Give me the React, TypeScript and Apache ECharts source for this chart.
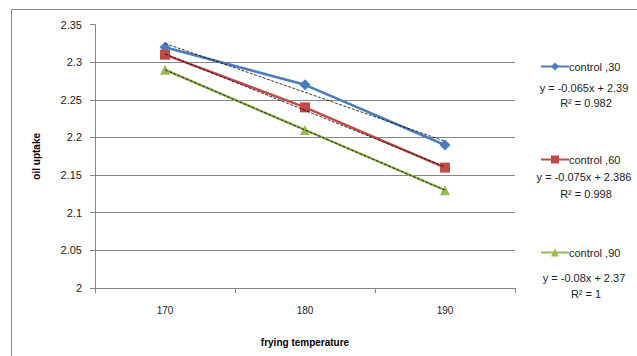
import React, { useEffect, useRef } from "react";
import * as echarts from "echarts";

const categories = ["170", "180", "190"];
const seriesNames = ["control ,30", "control ,60", "control ,90"];
const control30 = [2.32, 2.27, 2.19];
const control60 = [2.31, 2.24, 2.16];
const control90 = [2.29, 2.21, 2.13];
const trend30 = [2.325, 2.26, 2.195];
const trend60 = [2.311, 2.236, 2.161];
const trend90 = [2.29, 2.21, 2.13];
const equations = ["y = -0.065x + 2.39", "y = -0.075x + 2.386", "y = -0.08x + 2.37"];
const rSquared = ["R² = 0.982", "R² = 0.998", "R² = 1"];

const FONT = "Liberation Sans";

export default function App() {
  const ref = useRef<HTMLDivElement>(null);
  useEffect(() => {
    if (!ref.current) return;
    const chart = echarts.init(ref.current, null, { renderer: "svg" });
    const colors = ["#4A7EBB", "#BE4B48", "#98B954"];
    const symbols = ["diamond", "rect", "triangle"];
    const symbolSizes = [11, 10, 10];
    const values = [control30, control60, control90];
    const trends = [trend30, trend60, trend90];
    const eqY = [88, 177, 278];
    const r2Y = [103, 194, 294];

    const series: any[] = [];
    values.forEach((v, i) => {
      series.push({
        name: seriesNames[i],
        type: "line",
        data: v,
        symbol: symbols[i],
        symbolSize: symbolSizes[i],
        lineStyle: { color: colors[i], width: 2.5 },
        itemStyle: { color: colors[i] },
        z: 2,
      });
    });
    trends.forEach((t, i) => {
      series.push({
        name: "trend" + i,
        type: "line",
        data: t,
        symbol: "none",
        lineStyle: { color: "#000", width: 0.8, type: [3, 1.5] },
        z: 3,
        silent: true,
      });
    });

    const graphics: any[] = [
      {
        type: "rect",
        shape: { x: 11.5, y: 9.5, width: 700, height: 400 },
        style: { fill: "none", stroke: "#888", lineWidth: 1 },
        z: -1,
      },
    ];
    equations.forEach((e, i) => {
      graphics.push({
        type: "text",
        x: 584,
        y: eqY[i],
        style: { text: e, font: `11px "${FONT}"`, fill: "#222", align: "center", verticalAlign: "middle" },
      });
      graphics.push({
        type: "text",
        x: 586,
        y: r2Y[i],
        style: { text: rSquared[i], font: `11px "${FONT}"`, fill: "#222", align: "center", verticalAlign: "middle" },
      });
    });

    chart.setOption({
      animation: false,
      textStyle: { fontFamily: FONT },
      grid: { left: 95, top: 24.6, right: 122, bottom: 68, containLabel: false },
      legend: {
        data: seriesNames,
        orient: "vertical",
        left: 535,
        top: 56,
        itemGap: 82,
        itemWidth: 28,
        itemHeight: 10,
        textStyle: { fontFamily: FONT, fontSize: 11, color: "#222", padding: [0, 0, 0, -5] },
      },
      xAxis: {
        type: "category",
        data: categories,
        boundaryGap: true,
        name: "frying temperature",
        nameLocation: "middle",
        nameGap: 49,
        nameTextStyle: { fontFamily: FONT, fontSize: 10, fontWeight: "bold", color: "#000" },
        axisLine: { lineStyle: { color: "#868686", width: 1 } },
        axisTick: { show: true, length: 5, lineStyle: { color: "#868686" } },
        axisLabel: { fontFamily: FONT, fontSize: 10, color: "#222", margin: 17 },
      },
      yAxis: {
        type: "value",
        min: 2,
        max: 2.35,
        interval: 0.05,
        name: "oil uptake",
        nameLocation: "middle",
        nameGap: 54,
        nameRotate: 90,
        nameTextStyle: { fontFamily: FONT, fontSize: 10, fontWeight: "bold", color: "#000" },
        axisLine: { show: true, lineStyle: { color: "#868686", width: 1 } },
        axisTick: { show: true, length: 5, lineStyle: { color: "#868686" } },
        axisLabel: {
          fontFamily: FONT,
          fontSize: 11,
          color: "#222",
          margin: 13,
          formatter: (v: number) => String(parseFloat(v.toFixed(2))),
        },
        splitLine: {
          show: true,
          lineStyle: {
            color: ["#868686", "#868686", "#868686", "#868686", "#868686", "#868686", "#868686", "transparent"],
            width: 1,
          },
        },
      },
      graphic: graphics,
      series,
    });
    return () => chart.dispose();
  }, []);
  return <div ref={ref} style={{ position: "fixed", left: 0, top: 0, width: 637, height: 356, background: "#fff" }} />;
}
